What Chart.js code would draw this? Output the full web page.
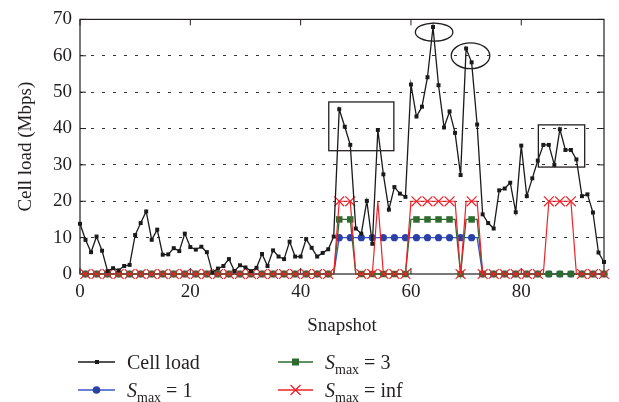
<!DOCTYPE html>
<html>
<head>
<meta charset="utf-8">
<script src="https://cdn.jsdelivr.net/npm/chart.js@4/dist/chart.umd.min.js"></script>
<style>
  body { margin: 0; background: #fff; }
  #wrap { position: relative; width: 619px; height: 402px; }
  .item { position: absolute; height: 26px; display: flex; align-items: center; white-space: nowrap;
          font-family: "Liberation Serif", serif; font-size: 20px; color: #231f20; }
  .item svg { margin-right: 12px; flex: none; }
  .item sub { font-size: 14px; vertical-align: -5px; line-height: 0; }
  .item i { font-style: italic; }
</style>
</head>
<body>
<div id="wrap">
  <canvas id="chart" width="619" height="402"></canvas>
  <div class="item" style="left:78px; top:349px">
    <svg width="37" height="10"><line x1="0" y1="5" x2="37" y2="5" stroke="#1a1a1a" stroke-width="1.3"/><rect x="17" y="3" width="4" height="4" fill="#1a1a1a"/></svg><span>Cell load</span>
  </div>
  <div class="item" style="left:78px; top:377px">
    <svg width="37" height="10"><line x1="0" y1="5" x2="37" y2="5" stroke="#3b55c8" stroke-width="1.3"/><circle cx="18.5" cy="5" r="3.8" fill="#2a41a6"/></svg><span><i>S</i><sub>max</sub>&nbsp;= 1</span>
  </div>
  <div class="item" style="left:278px; top:349px">
    <svg width="35" height="10"><line x1="0" y1="5" x2="35" y2="5" stroke="#2f6b2f" stroke-width="1.3"/><rect x="14" y="1.5" width="7" height="7" fill="#2f6b2f"/></svg><span><i>S</i><sub>max</sub>&nbsp;= 3</span>
  </div>
  <div class="item" style="left:278px; top:377px">
    <svg width="35" height="12"><line x1="0" y1="6" x2="35" y2="6" stroke="#ee2229" stroke-width="1.3"/><path d="M12.5 1 L22.5 11 M22.5 1 L12.5 11" stroke="#ee2229" stroke-width="1.3"/></svg><span><i>S</i><sub>max</sub>&nbsp;= inf</span>
  </div>
</div>
<script>
// cell load per snapshot (Mbps), snapshots 0..95
const cellLoad = [
  13.8, 9.4, 6.0, 10.3, 6.4, 0.8, 1.6, 1.0, 2.2, 2.5,
  10.7, 14.0, 17.2, 9.4, 12.2, 5.3, 5.4, 7.1, 6.3, 11.1,
  7.4, 6.7, 7.5, 6.0, 0.4, 1.5, 2.2, 4.1, 0.8, 2.4,
  1.8, 0.8, 1.7, 5.5, 2.2, 6.5, 4.8, 4.1, 8.9, 4.8,
  4.8, 9.6, 7.2, 4.8, 5.8, 6.8, 10.3, 45.3, 40.5, 35.5,
  12.5, 11.1, 20.1, 8.3, 39.6, 27.4, 17.7, 23.9, 22.1, 21.2,
  52.1, 43.3, 46.0, 54.1, 67.9, 51.9, 40.3, 44.7, 38.8, 27.2,
  62.0, 58.2, 41.1, 16.4, 14.0, 12.5, 23.0, 23.5, 25.1, 17.0,
  35.3, 21.4, 26.3, 31.2, 35.5, 35.5, 30.0, 39.8, 34.1, 34.1,
  31.5, 21.4, 21.9, 16.9, 5.9, 3.3
];
const sMax1 = [
  0, 0, 0, 0, 0, 0, 0, 0, 0, 0,
  0, 0, 0, 0, 0, 0, 0, 0, 0, 0,
  0, 0, 0, 0, 0, 0, 0, 0, 0, 0,
  0, 0, 0, 0, 0, 0, 0, 0, 0, 0,
  0, 0, 0, 0, 0, 0, 0, 10, 10, 10,
  10, 10, 10, 10, 10, 10, 10, 10, 10, 10,
  10, 10, 10, 10, 10, 10, 10, 10, 10, 10,
  10, 10, 10, 0, 0, 0, 0, 0, 0, 0,
  0, 0, 0, 0, 0, 0, 0, 0, 0, 0,
  0, 0, 0, 0, 0, 0
];
const sMax3 = [
  0, 0, 0, 0, 0, 0, 0, 0, 0, 0,
  0, 0, 0, 0, 0, 0, 0, 0, 0, 0,
  0, 0, 0, 0, 0, 0, 0, 0, 0, 0,
  0, 0, 0, 0, 0, 0, 0, 0, 0, 0,
  0, 0, 0, 0, 0, 0, 0, 15, 15, 15,
  0, 0, 0, 0, 0, 0, 0, 0, 0, 0,
  15, 15, 15, 15, 15, 15, 15, 15, 15, 0,
  15, 15, 15, 0, 0, 0, 0, 0, 0, 0,
  0, 0, 0, 0, 0, 0, 0, 0, 0, 0,
  0, 0, 0, 0, 0, 0
];
const sMaxInf = [
  0, 0, 0, 0, 0, 0, 0, 0, 0, 0,
  0, 0, 0, 0, 0, 0, 0, 0, 0, 0,
  0, 0, 0, 0, 0, 0, 0, 0, 0, 0,
  0, 0, 0, 0, 0, 0, 0, 0, 0, 0,
  0, 0, 0, 0, 0, 0, 0, 20, 20, 20,
  0, 0, 0, 0, 20, 0, 0, 0, 0, 0,
  20, 20, 20, 20, 20, 20, 20, 20, 20, 0,
  20, 20, 20, 0, 0, 0, 0, 0, 0, 0,
  0, 0, 0, 0, 0, 20, 20, 20, 20, 20,
  0, 0, 0, 0, 0, 0
];
const xTicks = [0, 20, 40, 60, 80];
const yTicks = [0, 10, 20, 30, 40, 50, 60, 70];

// highlighted regions, in data units
const boxes = [ // [x0, x1, y0, y1]
  [45.1, 56.9, 33.9, 47.3],
  [83.1, 91.5, 29.4, 41.0]
];
const rings = [ // [cx, cy, rx, ry]
  [64.2, 66.5, 3.4, 2.5],
  [70.8, 60.0, 3.5, 3.55]
];

const toPoints = arr => arr.map((v, i) => ({ x: i, y: v }));
const oddOnly = r => ctx => (ctx.dataIndex % 2 === 1 ? r : 0);

Chart.defaults.font.family = '"Liberation Serif", serif';
Chart.defaults.font.size = 19;
Chart.defaults.color = '#231f20';

const framePlugin = {
  id: 'frame',
  beforeDatasetsDraw(chart) {
    const { ctx, chartArea: a, scales: { x, y } } = chart;
    ctx.save();
    ctx.strokeStyle = '#231f20';
    ctx.lineWidth = 1.2;
    ctx.strokeRect(a.left, a.top, a.right - a.left, a.bottom - a.top);
    ctx.lineWidth = 1;
    ctx.beginPath();
    xTicks.forEach(t => {
      const px = x.getPixelForValue(t);
      ctx.moveTo(px, a.bottom); ctx.lineTo(px, a.bottom - 6);
      ctx.moveTo(px, a.top); ctx.lineTo(px, a.top + 6);
    });
    yTicks.forEach(t => {
      const py = y.getPixelForValue(t);
      ctx.moveTo(a.left, py); ctx.lineTo(a.left + 6, py);
      ctx.moveTo(a.right, py); ctx.lineTo(a.right - 6, py);
    });
    ctx.stroke();
    ctx.restore();
  },
  afterDatasetsDraw(chart) {
    const { ctx, scales: { x, y } } = chart;
    ctx.save();
    ctx.strokeStyle = '#231f20';
    ctx.lineWidth = 1.3;
    boxes.forEach(([x0, x1, y0, y1]) => {
      const l = x.getPixelForValue(x0), r = x.getPixelForValue(x1);
      const t = y.getPixelForValue(y1), b = y.getPixelForValue(y0);
      ctx.strokeRect(l, t, r - l, b - t);
    });
    rings.forEach(([cx, cy, rx, ry]) => {
      const px = x.getPixelForValue(cx), py = y.getPixelForValue(cy);
      const prx = x.getPixelForValue(cx + rx) - px;
      const pry = py - y.getPixelForValue(cy + ry);
      ctx.beginPath();
      ctx.ellipse(px, py, prx, pry, 0, 0, Math.PI * 2);
      ctx.stroke();
    });
    ctx.restore();
  }
};

new Chart(document.getElementById('chart'), {
  type: 'line',
  data: {
    datasets: [
      {
        label: 'Cell load',
        data: toPoints(cellLoad),
        order: 0,
        borderColor: '#1a1a1a',
        borderWidth: 1.3,
        pointStyle: 'rect',
        pointRadius: 2.8,
        pointBackgroundColor: '#1a1a1a',
        pointBorderWidth: 0,
        clip: false
      },
      {
        label: 'Smax = 1',
        data: toPoints(sMax1),
        order: 3,
        borderColor: '#3b55c8',
        borderWidth: 1.3,
        pointStyle: 'circle',
        pointRadius: oddOnly(3.6),
        pointBackgroundColor: '#2a41a6',
        pointBorderWidth: 0,
        clip: false
      },
      {
        label: 'Smax = 3',
        data: toPoints(sMax3),
        order: 2,
        borderColor: '#2f6b2f',
        borderWidth: 1.3,
        pointStyle: 'rect',
        pointRadius: oddOnly(4.6),
        pointBackgroundColor: '#2f6b2f',
        pointBorderWidth: 0,
        clip: false
      },
      {
        label: 'Smax = inf',
        data: toPoints(sMaxInf),
        order: 1,
        borderColor: '#ee2229',
        borderWidth: 1.2,
        pointStyle: 'crossRot',
        pointRadius: oddOnly(7),
        pointBorderColor: '#ee2229',
        pointBorderWidth: 1.2,
        clip: false
      }
    ]
  },
  options: {
    responsive: false,
    animation: false,
    layout: { padding: { left: 0, right: 15, top: 7, bottom: 64 } },
    plugins: { legend: { display: false }, tooltip: { enabled: false } },
    scales: {
      x: {
        type: 'linear',
        min: 0,
        max: 95,
        afterFit: s => { s.height = 64; },
        ticks: { stepSize: 20, includeBounds: false, padding: 7, maxRotation: 0 },
        grid: { display: false, drawTicks: false },
        border: { display: false },
        title: { display: true, text: 'Snapshot', padding: { top: 0, bottom: 1 } }
      },
      y: {
        min: 0,
        max: 70,
        afterFit: s => { s.width = 80; },
        ticks: { stepSize: 10, padding: 8 },
        grid: {
          drawTicks: false,
          lineWidth: 1,
          color: ctx => (ctx.tick && (ctx.tick.value === 0 || ctx.tick.value === 70)) ? 'rgba(0,0,0,0)' : '#333'
        },
        border: { display: false, dash: [3, 8] },
        title: { display: true, text: 'Cell load (Mbps)', padding: { top: 15 } }
      }
    }
  },
  plugins: [framePlugin]
});
</script>
</body>
</html>
